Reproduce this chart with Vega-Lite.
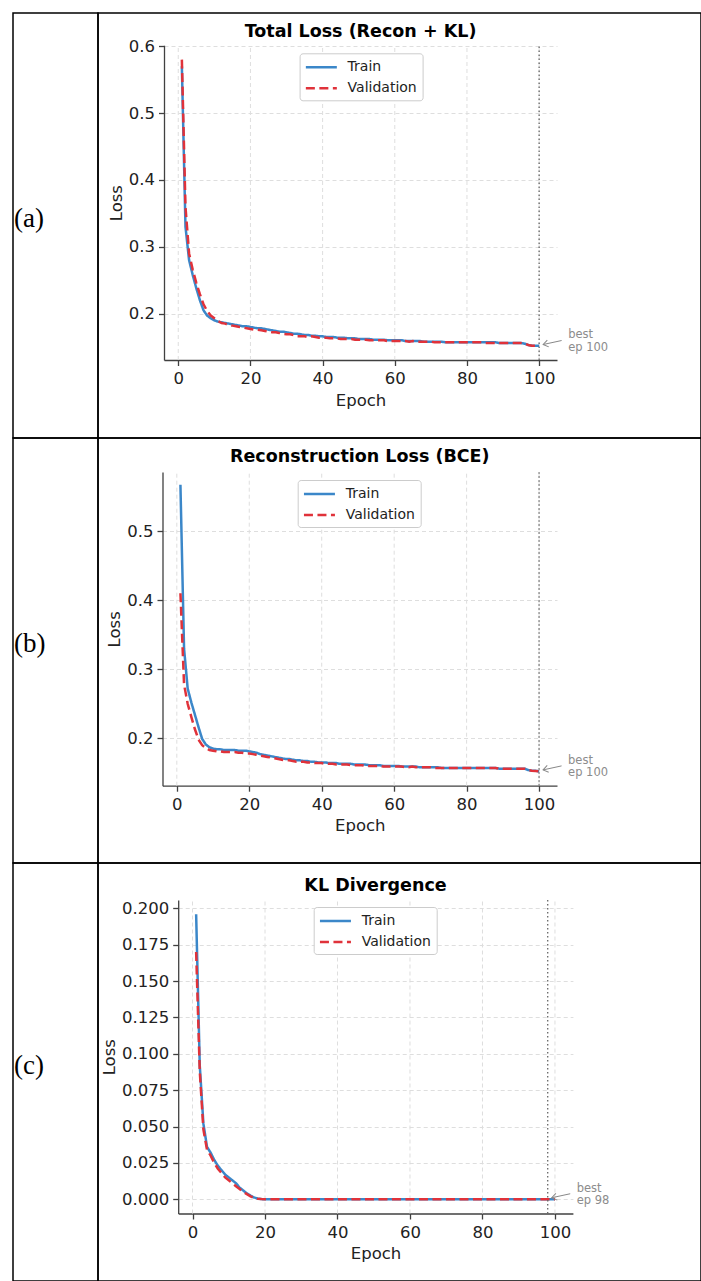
{
  "$schema": "https://vega.github.io/schema/vega-lite/v6.json",
  "padding": {"left": 12, "top": 12, "right": 0, "bottom": 0},
  "columns": 2,
  "spacing": 0,
  "bounds": "flush",
  "resolve": {"scale": {"color": "independent", "strokeDash": "independent"}, "legend": {"color": "independent", "strokeDash": "independent"}},
  "config": {
    "view": {"stroke": "black", "strokeWidth": 1.5},
    "font": "DejaVu Sans",
    "axis": {
      "labelFont": "DejaVu Sans", "titleFont": "DejaVu Sans",
      "labelFontSize": 16.5, "titleFontSize": 16.5, "titleFontWeight": "normal",
      "labelColor": "#222222", "titleColor": "#222222",
      "domainColor": "#404040", "domainWidth": 1.3,
      "tickColor": "#404040", "tickWidth": 1.3, "tickSize": 5.5,
      "grid": true, "gridColor": "#dedede", "gridDash": [4, 3], "gridWidth": 1
    },
    "axisX": {"grid": false},
    "legend": {
      "labelFont": "DejaVu Sans", "labelFontSize": 14, "labelColor": "#222222",
      "fillColor": "white", "strokeColor": "#cccccc", "cornerRadius": 3,
      "padding": 5, "rowPadding": 5, "labelOffset": 25,
      "symbolType": "M-1,0H3", "symbolSize": 240, "symbolStrokeWidth": 2.5
    }
  },
  "datasets": {
    "grid": [{"epoch": 0}, {"epoch": 20}, {"epoch": 40}, {"epoch": 60}, {"epoch": 80}, {"epoch": 100}],
    "a": [
      {"epoch":1,"Train":0.570,"Validation":0.580},{"epoch":2,"Train":0.330,"Validation":0.360},{"epoch":3,"Train":0.280,"Validation":0.290},{"epoch":4,"Train":0.258,"Validation":0.266},{"epoch":5,"Train":0.238,"Validation":0.246},
      {"epoch":6,"Train":0.220,"Validation":0.229},{"epoch":7,"Train":0.205,"Validation":0.214},{"epoch":8,"Train":0.197,"Validation":0.204},{"epoch":9,"Train":0.193,"Validation":0.197},{"epoch":10,"Train":0.190,"Validation":0.193},
      {"epoch":11,"Train":0.188,"Validation":0.189},{"epoch":12,"Train":0.187,"Validation":0.186},{"epoch":13,"Train":0.186,"Validation":0.185},{"epoch":14,"Train":0.185,"Validation":0.183},{"epoch":15,"Train":0.184,"Validation":0.182},
      {"epoch":16,"Train":0.183,"Validation":0.181},{"epoch":17,"Train":0.182,"Validation":0.180},{"epoch":18,"Train":0.181,"Validation":0.179},{"epoch":19,"Train":0.181,"Validation":0.178},{"epoch":20,"Train":0.180,"Validation":0.177},
      {"epoch":21,"Train":0.179,"Validation":0.176},{"epoch":22,"Train":0.178,"Validation":0.176},{"epoch":23,"Train":0.178,"Validation":0.175},{"epoch":24,"Train":0.177,"Validation":0.174},{"epoch":25,"Train":0.176,"Validation":0.173},
      {"epoch":26,"Train":0.175,"Validation":0.172},{"epoch":27,"Train":0.174,"Validation":0.172},{"epoch":28,"Train":0.173,"Validation":0.171},{"epoch":29,"Train":0.173,"Validation":0.170},{"epoch":30,"Train":0.172,"Validation":0.169},
      {"epoch":31,"Train":0.171,"Validation":0.169},{"epoch":32,"Train":0.170,"Validation":0.168},{"epoch":33,"Train":0.170,"Validation":0.166},{"epoch":34,"Train":0.169,"Validation":0.166},{"epoch":35,"Train":0.168,"Validation":0.166},
      {"epoch":36,"Train":0.168,"Validation":0.165},{"epoch":37,"Train":0.167,"Validation":0.166},{"epoch":38,"Train":0.167,"Validation":0.165},{"epoch":39,"Train":0.166,"Validation":0.164},{"epoch":40,"Train":0.166,"Validation":0.164},
      {"epoch":41,"Train":0.165,"Validation":0.164},{"epoch":42,"Train":0.165,"Validation":0.163},{"epoch":43,"Train":0.165,"Validation":0.163},{"epoch":44,"Train":0.164,"Validation":0.163},{"epoch":45,"Train":0.164,"Validation":0.162},
      {"epoch":46,"Train":0.164,"Validation":0.162},{"epoch":47,"Train":0.163,"Validation":0.162},{"epoch":48,"Train":0.163,"Validation":0.162},{"epoch":49,"Train":0.163,"Validation":0.161},{"epoch":50,"Train":0.162,"Validation":0.161},
      {"epoch":51,"Train":0.162,"Validation":0.161},{"epoch":52,"Train":0.162,"Validation":0.161},{"epoch":53,"Train":0.162,"Validation":0.160},{"epoch":54,"Train":0.161,"Validation":0.160},{"epoch":55,"Train":0.161,"Validation":0.160},
      {"epoch":56,"Train":0.161,"Validation":0.160},{"epoch":57,"Train":0.161,"Validation":0.160},{"epoch":58,"Train":0.160,"Validation":0.159},{"epoch":59,"Train":0.160,"Validation":0.159},{"epoch":60,"Train":0.160,"Validation":0.159},
      {"epoch":61,"Train":0.160,"Validation":0.159},{"epoch":62,"Train":0.160,"Validation":0.159},{"epoch":63,"Train":0.159,"Validation":0.159},{"epoch":64,"Train":0.159,"Validation":0.158},{"epoch":65,"Train":0.159,"Validation":0.159},
      {"epoch":66,"Train":0.159,"Validation":0.158},{"epoch":67,"Train":0.159,"Validation":0.158},{"epoch":68,"Train":0.158,"Validation":0.158},{"epoch":69,"Train":0.158,"Validation":0.158},{"epoch":70,"Train":0.158,"Validation":0.158},
      {"epoch":71,"Train":0.158,"Validation":0.157},{"epoch":72,"Train":0.158,"Validation":0.157},{"epoch":73,"Train":0.158,"Validation":0.157},{"epoch":74,"Train":0.157,"Validation":0.157},{"epoch":75,"Train":0.157,"Validation":0.157},
      {"epoch":76,"Train":0.157,"Validation":0.157},{"epoch":77,"Train":0.157,"Validation":0.157},{"epoch":78,"Train":0.157,"Validation":0.157},{"epoch":79,"Train":0.157,"Validation":0.157},{"epoch":80,"Train":0.157,"Validation":0.157},
      {"epoch":81,"Train":0.157,"Validation":0.157},{"epoch":82,"Train":0.157,"Validation":0.157},{"epoch":83,"Train":0.157,"Validation":0.157},{"epoch":84,"Train":0.157,"Validation":0.157},{"epoch":85,"Train":0.157,"Validation":0.156},
      {"epoch":86,"Train":0.157,"Validation":0.156},{"epoch":87,"Train":0.157,"Validation":0.156},{"epoch":88,"Train":0.157,"Validation":0.156},{"epoch":89,"Train":0.156,"Validation":0.156},{"epoch":90,"Train":0.156,"Validation":0.156},
      {"epoch":91,"Train":0.156,"Validation":0.156},{"epoch":92,"Train":0.156,"Validation":0.156},{"epoch":93,"Train":0.156,"Validation":0.156},{"epoch":94,"Train":0.156,"Validation":0.156},{"epoch":95,"Train":0.156,"Validation":0.156},
      {"epoch":96,"Train":0.155,"Validation":0.155},{"epoch":97,"Train":0.153,"Validation":0.153},{"epoch":98,"Train":0.152,"Validation":0.152},{"epoch":99,"Train":0.152,"Validation":0.152},{"epoch":100,"Train":0.152,"Validation":0.1515}
    ],
    "b": [
      {"epoch":1,"Train":0.567,"Validation":0.410},{"epoch":2,"Train":0.330,"Validation":0.278},{"epoch":3,"Train":0.272,"Validation":0.250},{"epoch":4,"Train":0.252,"Validation":0.231},{"epoch":5,"Train":0.234,"Validation":0.213},
      {"epoch":6,"Train":0.216,"Validation":0.198},{"epoch":7,"Train":0.199,"Validation":0.190},{"epoch":8,"Train":0.191,"Validation":0.186},{"epoch":9,"Train":0.187,"Validation":0.183},{"epoch":10,"Train":0.185,"Validation":0.182},
      {"epoch":11,"Train":0.184,"Validation":0.181},{"epoch":12,"Train":0.184,"Validation":0.181},{"epoch":13,"Train":0.183,"Validation":0.180},{"epoch":14,"Train":0.183,"Validation":0.180},{"epoch":15,"Train":0.183,"Validation":0.180},
      {"epoch":16,"Train":0.183,"Validation":0.180},{"epoch":17,"Train":0.182,"Validation":0.179},{"epoch":18,"Train":0.182,"Validation":0.179},{"epoch":19,"Train":0.182,"Validation":0.178},{"epoch":20,"Train":0.181,"Validation":0.178},
      {"epoch":21,"Train":0.180,"Validation":0.177},{"epoch":22,"Train":0.179,"Validation":0.176},{"epoch":23,"Train":0.177,"Validation":0.175},{"epoch":24,"Train":0.176,"Validation":0.174},{"epoch":25,"Train":0.175,"Validation":0.173},
      {"epoch":26,"Train":0.174,"Validation":0.172},{"epoch":27,"Train":0.173,"Validation":0.171},{"epoch":28,"Train":0.172,"Validation":0.170},{"epoch":29,"Train":0.171,"Validation":0.169},{"epoch":30,"Train":0.170,"Validation":0.168},
      {"epoch":31,"Train":0.170,"Validation":0.168},{"epoch":32,"Train":0.169,"Validation":0.167},{"epoch":33,"Train":0.168,"Validation":0.166},{"epoch":34,"Train":0.168,"Validation":0.166},{"epoch":35,"Train":0.167,"Validation":0.166},
      {"epoch":36,"Train":0.167,"Validation":0.165},{"epoch":37,"Train":0.166,"Validation":0.165},{"epoch":38,"Train":0.166,"Validation":0.164},{"epoch":39,"Train":0.165,"Validation":0.164},{"epoch":40,"Train":0.165,"Validation":0.164},
      {"epoch":41,"Train":0.165,"Validation":0.163},{"epoch":42,"Train":0.164,"Validation":0.163},{"epoch":43,"Train":0.164,"Validation":0.163},{"epoch":44,"Train":0.164,"Validation":0.162},{"epoch":45,"Train":0.163,"Validation":0.162},
      {"epoch":46,"Train":0.163,"Validation":0.162},{"epoch":47,"Train":0.163,"Validation":0.162},{"epoch":48,"Train":0.163,"Validation":0.161},{"epoch":49,"Train":0.162,"Validation":0.161},{"epoch":50,"Train":0.162,"Validation":0.161},
      {"epoch":51,"Train":0.162,"Validation":0.161},{"epoch":52,"Train":0.162,"Validation":0.160},{"epoch":53,"Train":0.161,"Validation":0.160},{"epoch":54,"Train":0.161,"Validation":0.160},{"epoch":55,"Train":0.161,"Validation":0.160},
      {"epoch":56,"Train":0.161,"Validation":0.160},{"epoch":57,"Train":0.160,"Validation":0.159},{"epoch":58,"Train":0.160,"Validation":0.159},{"epoch":59,"Train":0.160,"Validation":0.159},{"epoch":60,"Train":0.160,"Validation":0.159},
      {"epoch":61,"Train":0.160,"Validation":0.159},{"epoch":62,"Train":0.159,"Validation":0.159},{"epoch":63,"Train":0.159,"Validation":0.158},{"epoch":64,"Train":0.159,"Validation":0.158},{"epoch":65,"Train":0.159,"Validation":0.159},
      {"epoch":66,"Train":0.159,"Validation":0.158},{"epoch":67,"Train":0.158,"Validation":0.158},{"epoch":68,"Train":0.158,"Validation":0.158},{"epoch":69,"Train":0.158,"Validation":0.158},{"epoch":70,"Train":0.158,"Validation":0.158},
      {"epoch":71,"Train":0.158,"Validation":0.157},{"epoch":72,"Train":0.158,"Validation":0.157},{"epoch":73,"Train":0.157,"Validation":0.157},{"epoch":74,"Train":0.157,"Validation":0.157},{"epoch":75,"Train":0.157,"Validation":0.157},
      {"epoch":76,"Train":0.157,"Validation":0.157},{"epoch":77,"Train":0.157,"Validation":0.157},{"epoch":78,"Train":0.157,"Validation":0.157},{"epoch":79,"Train":0.157,"Validation":0.157},{"epoch":80,"Train":0.157,"Validation":0.157},
      {"epoch":81,"Train":0.157,"Validation":0.157},{"epoch":82,"Train":0.157,"Validation":0.157},{"epoch":83,"Train":0.157,"Validation":0.157},{"epoch":84,"Train":0.157,"Validation":0.157},{"epoch":85,"Train":0.157,"Validation":0.157},
      {"epoch":86,"Train":0.157,"Validation":0.157},{"epoch":87,"Train":0.157,"Validation":0.157},{"epoch":88,"Train":0.157,"Validation":0.157},{"epoch":89,"Train":0.156,"Validation":0.156},{"epoch":90,"Train":0.156,"Validation":0.156},
      {"epoch":91,"Train":0.156,"Validation":0.156},{"epoch":92,"Train":0.156,"Validation":0.156},{"epoch":93,"Train":0.156,"Validation":0.156},{"epoch":94,"Train":0.156,"Validation":0.156},{"epoch":95,"Train":0.156,"Validation":0.156},
      {"epoch":96,"Train":0.156,"Validation":0.156},{"epoch":97,"Train":0.154,"Validation":0.154},{"epoch":98,"Train":0.153,"Validation":0.153},{"epoch":99,"Train":0.153,"Validation":0.1525},{"epoch":100,"Train":0.152,"Validation":0.152}
    ],
    "c": [
      {"epoch":1,"Train":0.196,"Validation":0.170},{"epoch":2,"Train":0.092,"Validation":0.088},{"epoch":3,"Train":0.052,"Validation":0.048},{"epoch":4,"Train":0.036,"Validation":0.034},{"epoch":5,"Train":0.032,"Validation":0.030},
      {"epoch":6,"Train":0.027,"Validation":0.025},{"epoch":7,"Train":0.023,"Validation":0.021},{"epoch":8,"Train":0.020,"Validation":0.018},{"epoch":9,"Train":0.017,"Validation":0.015},{"epoch":10,"Train":0.015,"Validation":0.013},
      {"epoch":11,"Train":0.013,"Validation":0.011},{"epoch":12,"Train":0.011,"Validation":0.009},{"epoch":13,"Train":0.008,"Validation":0.007},{"epoch":14,"Train":0.006,"Validation":0.005},{"epoch":15,"Train":0.004,"Validation":0.0035},
      {"epoch":16,"Train":0.0025,"Validation":0.002},{"epoch":17,"Train":0.0012,"Validation":0.001},{"epoch":18,"Train":0.0005,"Validation":0.0003},{"epoch":19,"Train":0.0001,"Validation":0.0001},{"epoch":20,"Train":0,"Validation":0},
      {"epoch":21,"Train":0,"Validation":0},{"epoch":22,"Train":0,"Validation":0},{"epoch":23,"Train":0,"Validation":0},{"epoch":24,"Train":0,"Validation":0},{"epoch":25,"Train":0,"Validation":0},
      {"epoch":26,"Train":0,"Validation":0},{"epoch":27,"Train":0,"Validation":0},{"epoch":28,"Train":0,"Validation":0},{"epoch":29,"Train":0,"Validation":0},{"epoch":30,"Train":0,"Validation":0},
      {"epoch":31,"Train":0,"Validation":0},{"epoch":32,"Train":0,"Validation":0},{"epoch":33,"Train":0,"Validation":0},{"epoch":34,"Train":0,"Validation":0},{"epoch":35,"Train":0,"Validation":0},
      {"epoch":36,"Train":0,"Validation":0},{"epoch":37,"Train":0,"Validation":0},{"epoch":38,"Train":0,"Validation":0},{"epoch":39,"Train":0,"Validation":0},{"epoch":40,"Train":0,"Validation":0},
      {"epoch":41,"Train":0,"Validation":0},{"epoch":42,"Train":0,"Validation":0},{"epoch":43,"Train":0,"Validation":0},{"epoch":44,"Train":0,"Validation":0},{"epoch":45,"Train":0,"Validation":0},
      {"epoch":46,"Train":0,"Validation":0},{"epoch":47,"Train":0,"Validation":0},{"epoch":48,"Train":0,"Validation":0},{"epoch":49,"Train":0,"Validation":0},{"epoch":50,"Train":0,"Validation":0},
      {"epoch":51,"Train":0,"Validation":0},{"epoch":52,"Train":0,"Validation":0},{"epoch":53,"Train":0,"Validation":0},{"epoch":54,"Train":0,"Validation":0},{"epoch":55,"Train":0,"Validation":0},
      {"epoch":56,"Train":0,"Validation":0},{"epoch":57,"Train":0,"Validation":0},{"epoch":58,"Train":0,"Validation":0},{"epoch":59,"Train":0,"Validation":0},{"epoch":60,"Train":0,"Validation":0},
      {"epoch":61,"Train":0,"Validation":0},{"epoch":62,"Train":0,"Validation":0},{"epoch":63,"Train":0,"Validation":0},{"epoch":64,"Train":0,"Validation":0},{"epoch":65,"Train":0,"Validation":0},
      {"epoch":66,"Train":0,"Validation":0},{"epoch":67,"Train":0,"Validation":0},{"epoch":68,"Train":0,"Validation":0},{"epoch":69,"Train":0,"Validation":0},{"epoch":70,"Train":0,"Validation":0},
      {"epoch":71,"Train":0,"Validation":0},{"epoch":72,"Train":0,"Validation":0},{"epoch":73,"Train":0,"Validation":0},{"epoch":74,"Train":0,"Validation":0},{"epoch":75,"Train":0,"Validation":0},
      {"epoch":76,"Train":0,"Validation":0},{"epoch":77,"Train":0,"Validation":0},{"epoch":78,"Train":0,"Validation":0},{"epoch":79,"Train":0,"Validation":0},{"epoch":80,"Train":0,"Validation":0},
      {"epoch":81,"Train":0,"Validation":0},{"epoch":82,"Train":0,"Validation":0},{"epoch":83,"Train":0,"Validation":0},{"epoch":84,"Train":0,"Validation":0},{"epoch":85,"Train":0,"Validation":0},
      {"epoch":86,"Train":0,"Validation":0},{"epoch":87,"Train":0,"Validation":0},{"epoch":88,"Train":0,"Validation":0},{"epoch":89,"Train":0,"Validation":0},{"epoch":90,"Train":0,"Validation":0},
      {"epoch":91,"Train":0,"Validation":0},{"epoch":92,"Train":0,"Validation":0},{"epoch":93,"Train":0,"Validation":0},{"epoch":94,"Train":0,"Validation":0},{"epoch":95,"Train":0,"Validation":0},
      {"epoch":96,"Train":0,"Validation":0},{"epoch":97,"Train":0,"Validation":0},{"epoch":98,"Train":0,"Validation":0},{"epoch":99,"Train":0,"Validation":0},{"epoch":100,"Train":0,"Validation":0}
    ]
  },
  "concat": [
    {
      "width": 85, "height": 425,
      "data": {"values": [{"label": "(a)"}]},
      "mark": {"type": "text", "font": "Liberation Serif", "fontSize": 27, "align": "left", "dx": 1, "dy": -7, "color": "black"},
      "encoding": {
        "x": {"datum": 0, "type": "quantitative", "scale": {"domain": [0, 1]}, "axis": null},
        "y": {"datum": 0.5, "type": "quantitative", "scale": {"domain": [0, 1]}, "axis": null},
        "text": {"field": "label"}
      }
    },
    {
      "width": 603, "height": 425,
      "title": {"text": "Total Loss (Recon + KL)", "font": "DejaVu Sans", "fontSize": 17.5, "fontWeight": "bold", "color": "black", "anchor": "middle", "frame": "group", "offset": -41, "baseline": "alphabetic", "dx": -39},
      "layer": [
        {
          "data": {"name": "grid"},
          "mark": {"type": "rule", "color": "#dedede", "strokeWidth": 1, "strokeDash": [4, 3]},
          "encoding": {"x": {"field": "epoch", "type": "quantitative"}, "y": {"datum": 0.1306}, "y2": {"datum": 0.6014}}
        },
        {
          "data": {"name": "a"},
          "transform": [{"fold": ["Train", "Validation"], "as": ["series", "loss"]}],
          "mark": {"type": "line", "strokeWidth": 2.5},
          "encoding": {
            "x": {"field": "epoch", "type": "quantitative", "scale": {"domain": [-3.95, 104.95], "range": [66, 459], "nice": false, "zero": false},
                  "axis": {"values": [0, 20, 40, 60, 80, 100], "format": "d", "offset": -78, "title": "Epoch", "titlePadding": 5, "labelPadding": 5}},
            "y": {"field": "loss", "type": "quantitative", "scale": {"domain": [0.1306, 0.6014], "range": [347, 32.3], "nice": false, "zero": false},
                  "axis": {"values": [0.2, 0.3, 0.4, 0.5, 0.6], "format": ".1f", "offset": -66, "title": "Loss", "titlePadding": 4, "labelPadding": 4}},
            "color": {"field": "series", "type": "nominal", "scale": {"domain": ["Train", "Validation"], "range": ["#3B87C9", "#E0323A"]},
                      "legend": {"title": null, "orient": "none", "legendX": 201.6, "legendY": 40.3}},
            "strokeDash": {"field": "series", "type": "nominal", "scale": {"domain": ["Train", "Validation"], "range": [[1, 0], [9, 4.5]]},
                      "legend": {"title": null, "orient": "none", "legendX": 201.6, "legendY": 40.3}}
          }
        },
        {
          "data": {"values": [{"epoch": 100, "loss": 0.1515, "label": "best\nep 100"}]},
          "layer": [
            {"mark": {"type": "rule", "color": "#666666", "strokeWidth": 1.3, "strokeDash": [1.5, 2.5]},
             "encoding": {"x": {"field": "epoch", "type": "quantitative"}, "y": {"datum": 0.1306}, "y2": {"datum": 0.6014}}},
            {"mark": {"type": "rule", "color": "#888888", "strokeWidth": 1, "xOffset": 4, "yOffset": -1.5, "x2Offset": 22.5, "y2Offset": -5.5},
             "encoding": {"x": {"field": "epoch", "type": "quantitative"}, "y": {"field": "loss", "type": "quantitative"}, "x2": {"field": "epoch"}, "y2": {"field": "loss"}}},
            {"mark": {"type": "point", "shape": "M1,-0.7L0,0L1,0.7", "size": 100, "angle": -12, "filled": false, "stroke": "#888888", "strokeWidth": 1, "opacity": 1, "xOffset": 4, "yOffset": -1.5},
             "encoding": {"x": {"field": "epoch", "type": "quantitative"}, "y": {"field": "loss", "type": "quantitative"}}},
            {"mark": {"type": "text", "align": "left", "baseline": "middle", "dx": 29, "dy": -10.7, "fontSize": 11.5, "color": "#8c8c8c", "lineBreak": "\n", "lineHeight": 12.5, "font": "DejaVu Sans"},
             "encoding": {"x": {"field": "epoch", "type": "quantitative"}, "y": {"field": "loss", "type": "quantitative"}, "text": {"field": "label"}}}
          ]
        }
      ]
    },
    {
      "width": 85, "height": 425,
      "data": {"values": [{"label": "(b)"}]},
      "mark": {"type": "text", "font": "Liberation Serif", "fontSize": 27, "align": "left", "dx": 1, "dy": -7, "color": "black"},
      "encoding": {
        "x": {"datum": 0, "type": "quantitative", "scale": {"domain": [0, 1]}, "axis": null},
        "y": {"datum": 0.5, "type": "quantitative", "scale": {"domain": [0, 1]}, "axis": null},
        "text": {"field": "label"}
      }
    },
    {
      "width": 603, "height": 425,
      "title": {"text": "Reconstruction Loss (BCE)", "font": "DejaVu Sans", "fontSize": 17.5, "fontWeight": "bold", "color": "black", "anchor": "middle", "frame": "group", "offset": -41, "baseline": "alphabetic", "dx": -39.75},
      "layer": [
        {
          "data": {"name": "grid"},
          "mark": {"type": "rule", "color": "#dedede", "strokeWidth": 1, "strokeDash": [4, 3]},
          "encoding": {"x": {"field": "epoch", "type": "quantitative"}, "y": {"datum": 0.1313}, "y2": {"datum": 0.5857}}
        },
        {
          "data": {"name": "b"},
          "transform": [{"fold": ["Train", "Validation"], "as": ["series", "loss"]}],
          "mark": {"type": "line", "strokeWidth": 2.5},
          "encoding": {
            "x": {"field": "epoch", "type": "quantitative", "scale": {"domain": [-3.95, 104.95], "range": [64.5, 459], "nice": false, "zero": false},
                  "axis": {"values": [0, 20, 40, 60, 80, 100], "format": "d", "offset": -77.3, "title": "Epoch", "titlePadding": 5, "labelPadding": 5}},
            "y": {"field": "loss", "type": "quantitative", "scale": {"domain": [0.1313, 0.5857], "range": [347.7, 33.9], "nice": false, "zero": false},
                  "axis": {"values": [0.2, 0.3, 0.4, 0.5], "format": ".1f", "offset": -64.5, "title": "Loss", "titlePadding": 4, "labelPadding": 4}},
            "color": {"field": "series", "type": "nominal", "scale": {"domain": ["Train", "Validation"], "range": ["#3B87C9", "#E0323A"]},
                      "legend": {"title": null, "orient": "none", "legendX": 199.7, "legendY": 42}},
            "strokeDash": {"field": "series", "type": "nominal", "scale": {"domain": ["Train", "Validation"], "range": [[1, 0], [9, 4.5]]},
                      "legend": {"title": null, "orient": "none", "legendX": 199.7, "legendY": 42}}
          }
        },
        {
          "data": {"values": [{"epoch": 100, "loss": 0.152, "label": "best\nep 100"}]},
          "layer": [
            {"mark": {"type": "rule", "color": "#666666", "strokeWidth": 1.3, "strokeDash": [1.5, 2.5]},
             "encoding": {"x": {"field": "epoch", "type": "quantitative"}, "y": {"datum": 0.1313}, "y2": {"datum": 0.5857}}},
            {"mark": {"type": "rule", "color": "#888888", "strokeWidth": 1, "xOffset": 4, "yOffset": -1.5, "x2Offset": 22.5, "y2Offset": -5.5},
             "encoding": {"x": {"field": "epoch", "type": "quantitative"}, "y": {"field": "loss", "type": "quantitative"}, "x2": {"field": "epoch"}, "y2": {"field": "loss"}}},
            {"mark": {"type": "point", "shape": "M1,-0.7L0,0L1,0.7", "size": 100, "angle": -12, "filled": false, "stroke": "#888888", "strokeWidth": 1, "opacity": 1, "xOffset": 4, "yOffset": -1.5},
             "encoding": {"x": {"field": "epoch", "type": "quantitative"}, "y": {"field": "loss", "type": "quantitative"}}},
            {"mark": {"type": "text", "align": "left", "baseline": "middle", "dx": 29, "dy": -10.7, "fontSize": 11.5, "color": "#8c8c8c", "lineBreak": "\n", "lineHeight": 12.5, "font": "DejaVu Sans"},
             "encoding": {"x": {"field": "epoch", "type": "quantitative"}, "y": {"field": "loss", "type": "quantitative"}, "text": {"field": "label"}}}
          ]
        }
      ]
    },
    {
      "width": 85, "height": 418,
      "data": {"values": [{"label": "(c)"}]},
      "mark": {"type": "text", "font": "Liberation Serif", "fontSize": 27, "align": "left", "dx": 1, "dy": -6, "color": "black"},
      "encoding": {
        "x": {"datum": 0, "type": "quantitative", "scale": {"domain": [0, 1]}, "axis": null},
        "y": {"datum": 0.5, "type": "quantitative", "scale": {"domain": [0, 1]}, "axis": null},
        "text": {"field": "label"}
      }
    },
    {
      "width": 603, "height": 418,
      "title": {"text": "KL Divergence", "font": "DejaVu Sans", "fontSize": 17.5, "fontWeight": "bold", "color": "black", "anchor": "middle", "frame": "group", "offset": -45, "baseline": "alphabetic", "dx": -24},
      "layer": [
        {
          "data": {"name": "grid"},
          "mark": {"type": "rule", "color": "#dedede", "strokeWidth": 1, "strokeDash": [4, 3]},
          "encoding": {"x": {"field": "epoch", "type": "quantitative"}, "y": {"datum": -0.0098}, "y2": {"datum": 0.2058}}
        },
        {
          "data": {"name": "c"},
          "transform": [{"fold": ["Train", "Validation"], "as": ["series", "loss"]}],
          "mark": {"type": "line", "strokeWidth": 2.5},
          "encoding": {
            "x": {"field": "epoch", "type": "quantitative", "scale": {"domain": [-3.95, 104.95], "range": [80.2, 474.9], "nice": false, "zero": false},
                  "axis": {"values": [0, 20, 40, 60, 80, 100], "format": "d", "offset": -67.5, "title": "Epoch", "titlePadding": 5, "labelPadding": 5}},
            "y": {"field": "loss", "type": "quantitative", "scale": {"domain": [-0.0098, 0.2058], "range": [350.5, 37], "nice": false, "zero": false},
                  "axis": {"values": [0, 0.025, 0.05, 0.075, 0.1, 0.125, 0.15, 0.175, 0.2], "format": ".3f", "offset": -80.2, "title": "Loss", "titlePadding": 4, "labelPadding": 4}},
            "color": {"field": "series", "type": "nominal", "scale": {"domain": ["Train", "Validation"], "range": ["#3B87C9", "#E0323A"]},
                      "legend": {"title": null, "orient": "none", "legendX": 215.7, "legendY": 44}},
            "strokeDash": {"field": "series", "type": "nominal", "scale": {"domain": ["Train", "Validation"], "range": [[1, 0], [9, 4.5]]},
                      "legend": {"title": null, "orient": "none", "legendX": 215.7, "legendY": 44}}
          }
        },
        {
          "data": {"values": [{"epoch": 98, "loss": 0, "label": "best\nep 98"}]},
          "layer": [
            {"mark": {"type": "rule", "color": "#666666", "strokeWidth": 1.3, "strokeDash": [1.5, 2.5]},
             "encoding": {"x": {"field": "epoch", "type": "quantitative"}, "y": {"datum": -0.0098}, "y2": {"datum": 0.2058}}},
            {"mark": {"type": "rule", "color": "#888888", "strokeWidth": 1, "xOffset": 4, "yOffset": -1.5, "x2Offset": 22.5, "y2Offset": -5.5},
             "encoding": {"x": {"field": "epoch", "type": "quantitative"}, "y": {"field": "loss", "type": "quantitative"}, "x2": {"field": "epoch"}, "y2": {"field": "loss"}}},
            {"mark": {"type": "point", "shape": "M1,-0.7L0,0L1,0.7", "size": 100, "angle": -12, "filled": false, "stroke": "#888888", "strokeWidth": 1, "opacity": 1, "xOffset": 4, "yOffset": -1.5},
             "encoding": {"x": {"field": "epoch", "type": "quantitative"}, "y": {"field": "loss", "type": "quantitative"}}},
            {"mark": {"type": "text", "align": "left", "baseline": "middle", "dx": 29, "dy": -10.7, "fontSize": 11.5, "color": "#8c8c8c", "lineBreak": "\n", "lineHeight": 12.5, "font": "DejaVu Sans"},
             "encoding": {"x": {"field": "epoch", "type": "quantitative"}, "y": {"field": "loss", "type": "quantitative"}, "text": {"field": "label"}}}
          ]
        }
      ]
    }
  ]
}
